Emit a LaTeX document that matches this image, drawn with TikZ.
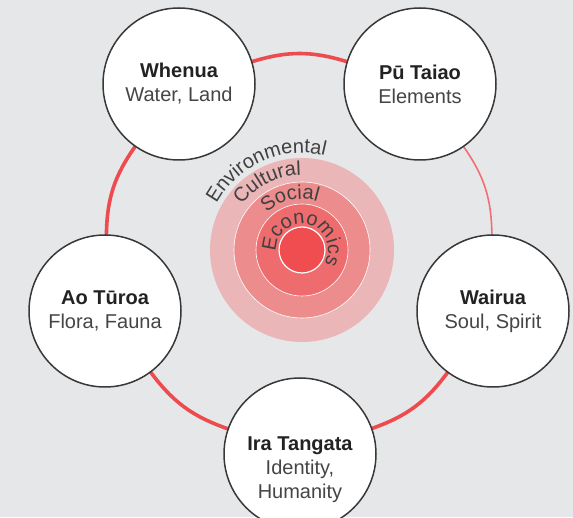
\documentclass[tikz,border=0pt]{standalone}
\usepackage{fontspec}
\setmainfont{Liberation Sans}
\usepackage{tikz}
\usetikzlibrary{positioning,decorations.text,backgrounds}
\definecolor{paper}{HTML}{E6E7E9}
\definecolor{rim}{HTML}{EE4B4F}
\definecolor{ink}{HTML}{222222}
\definecolor{soft}{HTML}{454545}
\definecolor{ringA}{HTML}{EAB6B7}
\definecolor{ringB}{HTML}{EC8C8D}
\definecolor{ringC}{HTML}{EE6C6E}
\definecolor{ringD}{HTML}{F04D51}
\newcommand{\ringfont}{\fontsize{20}{20}\selectfont}
\newcommand{\head}[1]{\textbf{\color{ink}#1}}
\tikzset{
  orb/.style={circle, draw=black!78, line width=1.5pt, fill=white, minimum size=152pt, inner sep=0pt, align=center, font=\fontsize{20}{24}\selectfont, text=soft},
  orbtext/.style={align=center, inner sep=0pt, font=\fontsize{20}{24}\selectfont, text=soft},
  link/.style={rim, line width=3.6pt, line cap=round},
  faint/.style={rim!80, line width=1.6pt, line cap=round},
  curve/.style={decorate, decoration={text along path, text align=center, text color=black!75}},
}

\begin{document}
\begin{tikzpicture}[x=1pt,y=1pt]
  \useasboundingbox (0,0) rectangle (573,517);
  \clip (0,0) rectangle (573,517);
  % the five circles
  \node[orb] (whenua)  at (179,433) {\head{Whenua}\\Water, Land};
  \node[orb] (putaiao) at (420,433) {\head{Pū Taiao}\\Elements};
  \node[orb] (wairua)  at (493,206) {\head{Wairua}\\Soul, Spirit};
  \node[orb] (aoturoa) at (105,206) {\head{Ao Tūroa}\\Flora, Fauna};
  \node[orb] (ira)     at (300,63)  {};
  \node[orbtext] (iratext) at ([yshift=-16pt]ira.center) {\head{Ira Tangata}\\Identity,\\Humanity};
  % rings in the middle
  \coordinate (core) at (302,267);
  \fill[ringA] (core) circle[radius=92];
  \draw[white, line width=0.6pt, fill=ringB] (core) circle[radius=68];
  \draw[white, line width=0.6pt, fill=ringC] (core) circle[radius=46];
  \draw[white, line width=1.2pt, fill=ringD] (core) circle[radius=23];
  \path[curve, decoration={text={|\ringfont|Environmental}}] ([shift={(174:97)}]core) arc[start angle=174, end angle=54, radius=97];
  \path[curve, decoration={text={|\ringfont|Cultural}}] ([shift={(177:75)}]core) arc[start angle=177, end angle=57, radius=75];
  \path[curve, decoration={text={|\ringfont|Social}}] ([shift={(173:51)}]core) arc[start angle=173, end angle=33, radius=51];
  \path[curve, decoration={text={|\ringfont|Economics}}] ([shift={(206:26)}]core) arc[start angle=206, end angle=-54, radius=26];
  % red links
  \begin{scope}[on background layer]
    \fill[paper] (0,0) rectangle (573,517);
    \draw[link]  (whenua)  to[bend left=17] (putaiao);
    \draw[faint] (putaiao) to[bend left=17] (wairua);
    \draw[link]  (wairua)  to[bend left=17] (ira);
    \draw[link]  (ira)     to[bend left=17] (aoturoa);
    \draw[link]  (aoturoa) to[bend left=17] (whenua);
  \end{scope}
\end{tikzpicture}
\end{document}
